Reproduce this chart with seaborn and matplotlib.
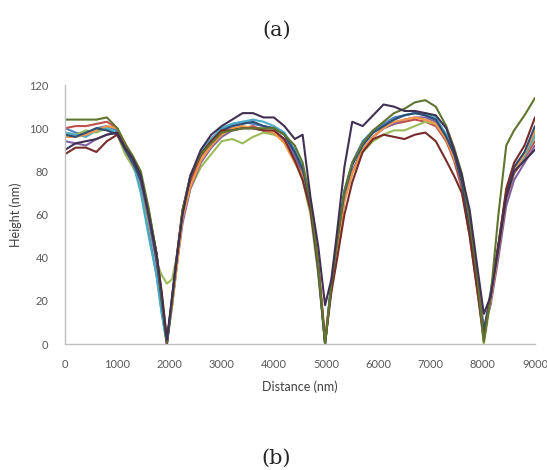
#!/usr/bin/env python3
"""Height profiles across three trenches, one line per scan."""
import matplotlib.pyplot as plt
import pandas as pd
import seaborn as sns

# Distance samples (nm), shared by every scan line
distance = [0, 200, 400, 600, 800, 1000, 1150, 1300, 1450, 1600, 1750, 1850, 1950,
            2050, 2150, 2250, 2400, 2600, 2800, 3000, 3200, 3400, 3600, 3800, 4000,
            4200, 4400, 4550, 4700, 4850, 4980, 5100, 5200, 5350, 5500, 5700, 5900,
            6100, 6300, 6500, 6700, 6900, 7100, 7300, 7450, 7600, 7750, 7900, 8020,
            8150, 8300, 8450, 8600, 8800, 9000]

# Height (nm) per scan line
scan_1 = [100, 98, 97, 100, 101, 99, 92, 85, 72, 52, 32, 15, 0, 18, 40, 60, 77, 89, 95,
          100, 102, 103, 102, 101, 100, 97, 88, 80, 64, 34, 0, 28, 46, 71, 84, 94, 99,
          102, 105, 106, 107, 106, 104, 97, 89, 76, 53, 26, 3, 22, 46, 70, 81, 87, 97]
scan_2 = [100, 101, 101, 102, 103, 100, 90, 83, 78, 58, 42, 22, 1, 20, 41, 60, 75, 87, 93,
          98, 100, 100, 101, 99, 98, 94, 86, 78, 66, 36, 0, 27, 44, 68, 80, 90, 96,
          100, 102, 103, 104, 103, 101, 94, 85, 72, 50, 24, 4, 20, 42, 67, 79, 86, 94]
scan_3 = [98, 97, 99, 98, 100, 97, 88, 82, 74, 56, 38, 32, 28, 30, 42, 58, 72, 82, 88,
          94, 95, 93, 96, 98, 97, 95, 85, 76, 60, 32, 0, 26, 42, 67, 79, 89, 94,
          97, 99, 99, 101, 103, 102, 95, 88, 75, 54, 26, 0, 20, 44, 70, 80, 87, 96]
scan_4 = [94, 93, 92, 95, 97, 98, 91, 83, 75, 58, 38, 20, 2, 18, 38, 56, 72, 84, 91,
          96, 99, 100, 100, 99, 98, 95, 87, 80, 63, 33, 2, 26, 43, 67, 80, 90, 96,
          100, 102, 104, 105, 105, 103, 96, 88, 76, 56, 30, 8, 18, 40, 64, 76, 84, 92]
scan_5 = [98, 97, 96, 99, 100, 98, 92, 84, 70, 50, 32, 14, 0, 19, 40, 61, 77, 89, 95,
          100, 102, 103, 104, 103, 101, 98, 90, 82, 66, 36, 1, 29, 46, 71, 83, 93, 98,
          101, 104, 106, 107, 107, 105, 97, 87, 76, 55, 28, 4, 22, 45, 69, 80, 87, 97]
scan_6 = [96, 96, 97, 99, 101, 100, 93, 84, 77, 60, 42, 24, 3, 18, 38, 58, 73, 85, 92,
          97, 100, 101, 100, 99, 98, 93, 84, 78, 67, 38, 3, 25, 42, 66, 79, 90, 96,
          100, 103, 104, 105, 104, 102, 95, 86, 77, 58, 30, 5, 20, 43, 68, 80, 88, 99]
scan_7 = [97, 96, 98, 100, 99, 97, 90, 84, 76, 60, 40, 20, 0, 21, 42, 62, 78, 88, 94,
          99, 101, 102, 103, 101, 100, 97, 89, 81, 65, 34, 0, 28, 46, 70, 83, 92, 98,
          101, 104, 106, 107, 106, 104, 96, 88, 75, 52, 26, 6, 24, 46, 70, 82, 89, 101]
scan_8 = [88, 91, 91, 89, 94, 97, 91, 86, 78, 62, 42, 22, 0, 22, 43, 62, 77, 88, 94,
          99, 99, 100, 100, 99, 99, 95, 85, 76, 62, 36, 1, 24, 38, 60, 75, 89, 95,
          97, 96, 95, 97, 98, 94, 85, 78, 70, 50, 24, 2, 22, 46, 72, 84, 92, 105]
scan_9 = [104, 104, 104, 104, 105, 100, 93, 87, 80, 63, 42, 22, 1, 20, 42, 62, 78, 88, 93,
          98, 99, 100, 100, 100, 100, 97, 92, 84, 66, 36, 0, 28, 46, 71, 84, 93, 99,
          103, 107, 109, 112, 113, 110, 101, 91, 79, 58, 30, 1, 22, 60, 92, 99, 106, 114]
scan_10 = [90, 93, 94, 95, 97, 98, 91, 86, 78, 60, 42, 24, 2, 22, 42, 60, 78, 90, 97,
           101, 104, 107, 107, 105, 105, 101, 95, 97, 68, 45, 18, 30, 50, 82, 103, 101, 106,
           111, 110, 108, 108, 107, 106, 100, 90, 78, 62, 35, 14, 22, 44, 68, 80, 85, 90]

scans = [scan_1, scan_2, scan_3, scan_4, scan_5, scan_6, scan_7, scan_8, scan_9, scan_10]
scan_names = [f'scan {i + 1}' for i in range(len(scans))]

# Office-style series colours
colors = ['#4F81BD', '#C0504D', '#9BBB59', '#8064A2', '#4BACC6',
          '#F79646', '#2C4D75', '#772C2A', '#5F7530', '#403152']

df = pd.concat(
    [pd.DataFrame({'Distance': distance, 'Height': h, 'scan': name})
     for name, h in zip(scan_names, scans)],
    ignore_index=True,
)

sns.set_style('white')
fig = plt.figure(figsize=(5.47, 4.70), dpi=100)
ax = fig.add_axes([0.119, 0.268, 0.859, 0.551])

sns.lineplot(data=df, x='Distance', y='Height', hue='scan', palette=colors,
             linewidth=1.5, legend=False, ax=ax, estimator=None, sort=False)

ax.set_xlim(0, 9000)
ax.set_ylim(0, 120)
ax.set_xticks(range(0, 9001, 1000))
ax.set_yticks(range(0, 121, 20))
ax.tick_params(axis='both', length=0, labelsize=8, labelcolor='#595959')
ax.tick_params(axis='y', pad=12)
ax.tick_params(axis='x', pad=11)
for lab in ax.get_xticklabels() + ax.get_yticklabels():
    lab.set_family('Lato')

for side in ('top', 'right'):
    ax.spines[side].set_visible(False)
for side in ('left', 'bottom'):
    ax.spines[side].set_color('#BFBFBF')
    ax.spines[side].set_linewidth(1.0)

ax.set_xlabel('Distance (nm)', fontsize=9, color='#404040', family='Lato', labelpad=7)
ax.set_ylabel('Height (nm)', fontsize=9, color='#404040', family='Lato', labelpad=5)

fig.text(0.505, 1 - 30 / 470, '(a)', ha='center', va='center', fontsize=15,
         family='DejaVu Serif')
fig.text(0.505, 2 / 470, '(b)', ha='center', va='bottom', fontsize=15,
         family='DejaVu Serif')

fig.savefig('out.png', dpi=100)
